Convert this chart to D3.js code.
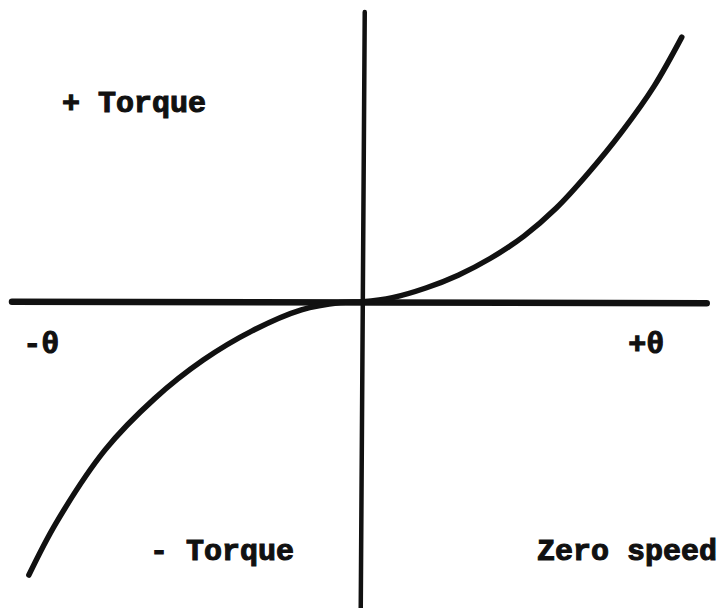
<!DOCTYPE html>
<html>
<head>
<meta charset="utf-8">
<script src="https://cdn.jsdelivr.net/npm/d3@7"></script>
<style>
  body { margin: 0; background: #fff; }
  svg { display: block; }
  .lbl { font-family: "Liberation Mono", "DejaVu Sans Mono", monospace; font-weight: bold; font-size: 30px; fill: #111; stroke: #111; stroke-width: 1.1px; }
</style>
</head>
<body>
<main></main>
<script>
// torque vs angle (arbitrary units, origin = zero speed point)
const theta  = [-0.990, -0.909, -0.764, -0.618, -0.473, -0.328, -0.182, -0.066, 0,
                0.088, 0.187, 0.283, 0.379, 0.478, 0.574, 0.669, 0.768, 0.864, 0.946]
const torque = [-0.937, -0.758, -0.508, -0.333, -0.200, -0.100, -0.028, -0.003, 0,
                0.014, 0.047, 0.091, 0.149, 0.225, 0.321, 0.441, 0.582, 0.739, 0.907]

// axis extents in the same units
const thetaAxis  = [-1.04, 1.02]
const torqueAxis = [-1.05, 1.0]

const labels = [
  { text: '+ Torque',   th: -0.892, tq: 0.65 },
  { text: '-\u03b8',    th: -1.007, tq: -0.175 },
  { text: '+\u03b8',    th: 0.787, tq: -0.175 },
  { text: '- Torque',   th: -0.631, tq: -0.885 },
  { text: 'Zero speed', th: 0.517, tq: -0.885 }
]

const size = { width: 726, height: 608 }

const svg = d3.select('main')
  .append('svg')
  .attr('width', size.width)
  .attr('height', size.height)

const x = d3.scaleLinear().domain([-1.04, 1.0]).range([12, 700])
const y = d3.scaleLinear().domain([-1.05, 1.0]).range([608, 10])

// axes through the origin
svg.append('line')
  .attr('x1', x(thetaAxis[0])).attr('x2', x(thetaAxis[1]))
  .attr('y1', y(0)).attr('y2', y(0) + 1.5)
  .attr('stroke', '#111').attr('stroke-width', 6.5).attr('stroke-linecap', 'round')

svg.append('line')
  .attr('x1', x(0) + 2).attr('x2', x(0) - 2)
  .attr('y1', y(torqueAxis[1]) + 2).attr('y2', y(torqueAxis[0]))
  .attr('stroke', '#111').attr('stroke-width', 4.5).attr('stroke-linecap', 'round')

// the curve
const line = d3.line()
  .x((d, i) => x(theta[i]))
  .y((d, i) => y(torque[i]))
  .curve(d3.curveCatmullRom.alpha(0.5))

svg.append('path')
  .datum(theta)
  .attr('d', line)
  .attr('fill', 'none')
  .attr('stroke', '#111')
  .attr('stroke-width', 5.5)
  .attr('stroke-linecap', 'round')

svg.selectAll('text.lbl')
  .data(labels)
  .enter()
  .append('text')
  .attr('class', 'lbl')
  .attr('x', d => x(d.th))
  .attr('y', d => y(d.tq))
  .text(d => d.text)
</script>
</body>
</html>
